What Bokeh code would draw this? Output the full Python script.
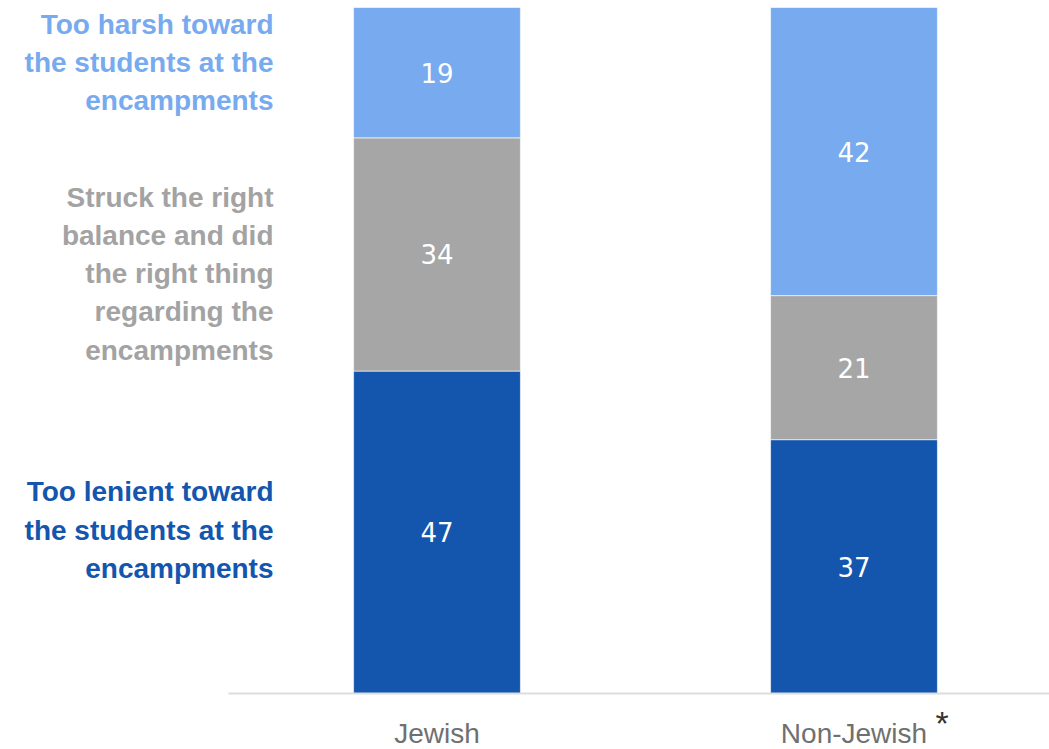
from bokeh.plotting import figure
from bokeh.models import ColumnDataSource, Range1d, FixedTicker, Label, LinearAxis
from bokeh.core.properties import value
from bokeh.embed import file_html
from bokeh.resources import INLINE

# ---- data ----
categories = ["Jewish", "Non-Jewish"]
category_marks = ["", "*"]
too_lenient = [47, 37]
right_balance = [34, 21]
too_harsh = [19, 42]
series_names = ["too_lenient", "right_balance", "too_harsh"]
series_labels = [
    "Too lenient toward\nthe students at the\nencampments",
    "Struck the right\nbalance and did\nthe right thing\nregarding the\nencampments",
    "Too harsh toward\nthe students at the\nencampments",
]
colors = ["#1455AD", "#A6A6A6", "#77AAEE"]
label_colors = ["#1455AD", "#A3A3A3", "#77AAEE"]
label_y = [23.8, 61.2, 92.0]

W, H = 1049, 749
px_per_x = 417.0
px_per_y = 6.86
x0_px = 436.5      # pixel of first category centre
base_px = 693.0    # pixel of the baseline
top_px = 7.0

xs = list(range(len(categories)))
src = ColumnDataSource(dict(x=xs, too_lenient=too_lenient,
                            right_balance=right_balance, too_harsh=too_harsh))

x_start = -x0_px / px_per_x
x_end = (W - x0_px) / px_per_x
y_start = -(H - base_px) / px_per_y
y_end = 100 + top_px / px_per_y

p = figure(width=W, height=H, output_backend="svg", toolbar_location=None,
           x_range=Range1d(x_start, x_end), y_range=Range1d(y_start, y_end),
           x_axis_location=None, y_axis_location=None,
           min_border=0)
p.outline_line_color = None
p.grid.visible = False
p.background_fill_color = "white"
p.border_fill_color = "white"

p.vbar_stack(series_names, x="x", width=0.4, source=src, color=colors,
             line_color="white", line_width=0.6)

# baseline axis at y = 0
ax = LinearAxis(fixed_location=0, bounds=(-0.5, x_end), ticker=FixedTicker(ticks=[]),
                major_label_text_font_size="0px", major_tick_line_color=None,
                minor_tick_line_color=None, axis_line_color="#DDDDDD",
                axis_line_width=2, major_label_standoff=0)
p.add_layout(ax, "below")

# value labels
lx, ly, lt = [], [], []
for i in xs:
    base = 0
    for vals in (too_lenient, right_balance, too_harsh):
        v = vals[i]
        lx.append(i)
        ly.append(base + v / 2)
        lt.append(str(v))
        base += v
lsrc = ColumnDataSource(dict(x=lx, y=ly, t=lt))
p.text(x="x", y="y", text="t", source=lsrc, text_align="center",
       text_baseline="middle", text_color="white",
       text_font=value("DejaVu Sans"), text_font_size="26px")

# category labels
csrc = ColumnDataSource(dict(x=xs, y=[0] * len(xs), t=categories, m=category_marks))
p.text(x="x", y="y", text="t", source=csrc, y_offset=40, text_align="center",
       text_baseline="middle", text_color="#707070",
       text_font=value("Liberation Sans"), text_font_size="28px")
p.text(x="x", y="y", text="m", source=csrc, x_offset=88, y_offset=29,
       text_align="center", text_baseline="middle", text_color="#333333",
       text_font=value("Liberation Sans"), text_font_size="34px")

# series labels on the left
for txt, col, yy in zip(series_labels, label_colors, label_y):
    p.add_layout(Label(x=-0.5, y=yy, text=txt, x_offset=45,
                       text_align="right", text_baseline="middle",
                       text_font="Liberation Sans", text_font_style="bold",
                       text_font_size="28px", text_line_height=1.235,
                       text_color=col))

open("out.html", "w").write(file_html(p, INLINE))
